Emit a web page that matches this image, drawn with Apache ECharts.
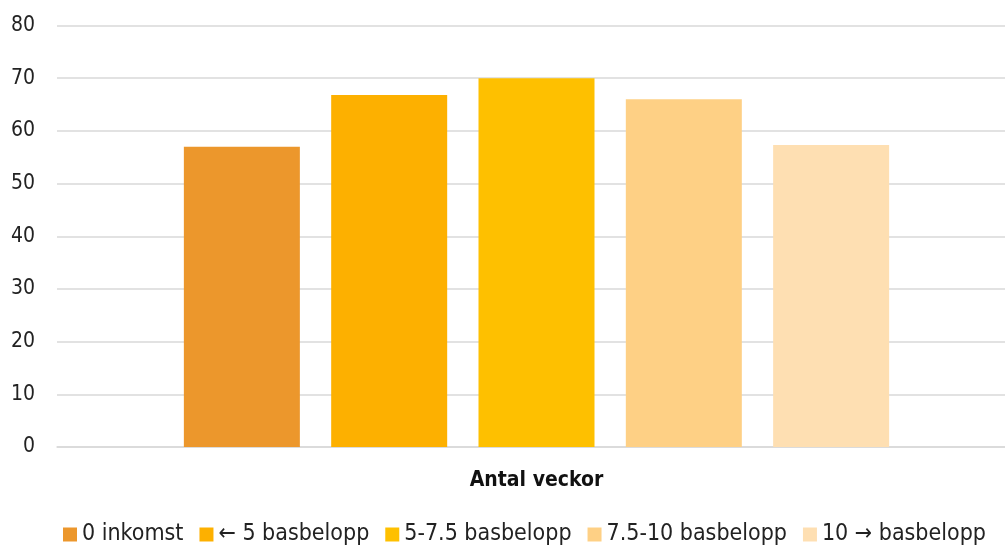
<!DOCTYPE html>
<html><head><meta charset="utf-8">
<script src="https://cdn.jsdelivr.net/npm/echarts@6/dist/echarts.min.js"></script>
<style>html,body{margin:0;padding:0;background:#fff}#c{width:1005px;height:545px}</style>
</head><body><div id="c"></div>
<script>
const categories = ['Antal veckor'];
const seriesNames = ['0 inkomst', '\u2190 5 basbelopp', '5-7.5 basbelopp', '7.5-10 basbelopp', '10 \u2192 basbelopp'];
const values0 = [57.0];
const values1 = [66.8];
const values2 = [70.0];
const values3 = [66.0];
const values4 = [57.3];
const seriesValues = [values0, values1, values2, values3, values4];
const colors = ['#EC972C', '#FDB000', '#FEC000', '#FED085', '#FEDFB2'];
const yTicks = [0, 10, 20, 30, 40, 50, 60, 70, 80];

const font = '"DejaVu Sans Condensed", "Roboto", sans-serif';
const chart = echarts.init(document.getElementById('c'));
chart.setOption({
  animation: false,
  grid: { left: 57, width: 959, top: 25.5, height: 421.5, outerBoundsMode: 'none', containLabel: false },
  legend: {
    top: 518, left: 58, itemWidth: 14, itemHeight: 14, itemGap: 16,
    icon: 'rect',
    textStyle: { fontFamily: font, fontSize: 23, color: '#222' },
    data: seriesNames
  },
  xAxis: {
    type: 'category', data: categories,
    axisLine: { show: true, lineStyle: { color: '#D9D9D9', width: 1.5 } },
    axisTick: { show: false },
    axisLabel: { margin: 23, fontFamily: font, fontSize: 21, fontWeight: 'bold', color: '#111', align: 'center' }
  },
  yAxis: {
    type: 'value', min: 0, max: 80, interval: 10,
    axisLine: { show: false }, axisTick: { show: false },
    splitLine: { lineStyle: { color: '#D9D9D9', width: 1.5 } },
    axisLabel: { margin: 22, fontFamily: font, fontSize: 21, color: '#222',
      formatter: v => yTicks.includes(v) ? String(v) : '' }
  },
  series: seriesNames.map((n, i) => ({
    name: n, type: 'bar', data: seriesValues[i], barWidth: 116, barGap: '27%',
    itemStyle: { color: colors[i] }
  }))
});
</script></body></html>
